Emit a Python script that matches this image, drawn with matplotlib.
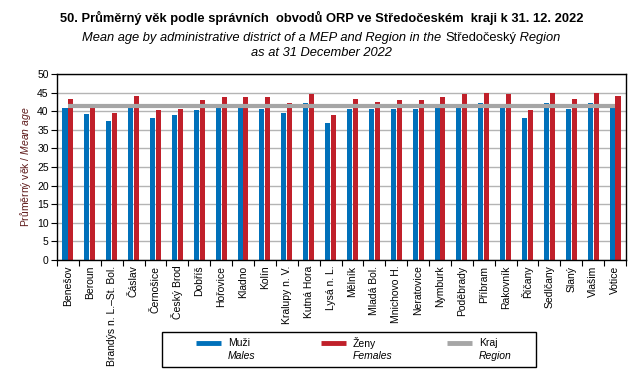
import matplotlib
matplotlib.use("Agg")
import matplotlib.pyplot as plt
from matplotlib.lines import Line2D
import numpy as np

plt.rcParams['font.family'] = ['Liberation Sans', 'DejaVu Sans']
plt.rcParams['mathtext.fontset'] = 'custom'
plt.rcParams['mathtext.it'] = 'Liberation Sans:italic'
plt.rcParams['mathtext.rm'] = 'Liberation Sans'

districts = ['Benešov', 'Beroun', 'Brandýs n. L.–St. Bol.', 'Čáslav', 'Černošice',
             'Český Brod', 'Dobříš', 'Hořovice', 'Kladno', 'Kolín',
             'Kralupy n. V.', 'Kutná Hora', 'Lysá n. L.', 'Mělník', 'Mladá Bol.',
             'Mnichovo H.', 'Neratovice', 'Nymburk', 'Poděbrady', 'Příbram',
             'Rakovník', 'Říčany', 'Sedlčany', 'Slaný', 'Vlašim', 'Votice']
males = [40.9, 39.3, 37.4, 41.2, 38.3, 39.1, 40.4, 41.2, 41.1, 40.6,
         39.6, 42.1, 36.9, 40.7, 40.5, 40.7, 40.5, 41.2, 41.2, 42.1,
         41.2, 38.3, 42.3, 40.5, 42.1, 41.1]
females = [43.3, 41.1, 39.4, 44.0, 40.2, 40.7, 42.9, 43.7, 43.7, 43.7,
           42.1, 44.5, 39.1, 43.2, 42.6, 42.9, 42.9, 43.7, 44.5, 44.8,
           44.5, 40.2, 45.0, 43.2, 44.8, 44.2]
region = 41.4

BLUE = '#0070BA'
RED = '#C0202A'
GRAY = '#A6A6A6'

fig = plt.figure(figsize=(6.43, 3.71), dpi=100)
ax = fig.add_axes([57/643, 1-260/371, 569/643, 186/371])

x = np.arange(len(districts))
w = 0.23
ax.bar(x - 0.135, males, width=w, color=BLUE, zorder=2)
ax.bar(x + 0.135, females, width=w, color=RED, zorder=2)
ax.plot(x, [region]*len(x), color=GRAY, lw=3.0, zorder=3, solid_capstyle='butt')

ax.set_xlim(-0.5, len(x) - 0.5)
ax.set_ylim(0, 50)
ax.set_yticks(range(0, 51, 5))
ax.yaxis.grid(True, color='#B4B4B4', lw=1.0, zorder=0)
ax.set_axisbelow(True)
ax.set_xticks(x)
ax.set_xticklabels(districts, rotation=90, fontsize=7.5)
ax.set_xticks(np.arange(-0.5, len(x)), minor=True)
ax.tick_params(axis='x', which='major', length=0, pad=4)
ax.tick_params(axis='x', which='minor', length=4, width=0.8, direction='out')
ax.tick_params(axis='y', labelsize=7.5, length=4, width=0.8, direction='out', pad=2)
for s in ax.spines.values():
    s.set_linewidth(1.0)
    s.set_color('black')

ax.set_ylabel('Průměrný věk / $\\it{Mean\\ age}$', fontsize=7.5, color='#5E1A1A', labelpad=3)

# titles
fig.text(0.5, 1-18/371, '50. Průměrný věk podle správních  obvodů ORP ve Středočeském  kraji k 31. 12. 2022',
         ha='center', va='center', fontsize=9.3, fontweight='bold')
fig.canvas.draw()
r = fig.canvas.get_renderer()
parts = [('Mean age by administrative district of a MEP and Region in the ', 'italic'),
         ('Středočeský', 'normal'), (' Region', 'italic')]
tmp = [fig.text(0, 0, t, fontsize=9.3, style=st) for t, st in parts]
widths = [t.get_window_extent(r).width for t in tmp]
for t in tmp:
    t.remove()
x0 = (643 - sum(widths)) / 2
for (t, st), wd in zip(parts, widths):
    fig.text(x0/643, 1-38/371, t, fontsize=9.3, style=st, va='center', ha='left')
    x0 += wd
fig.text(0.5, 1-53/371, 'as at 31 December 2022', ha='center', va='center',
         fontsize=9.3, style='italic')

# legend box
box = plt.Rectangle((162/643, 1-367/371), 374/643, 35/371, transform=fig.transFigure,
                    fill=False, ec='black', lw=1.0)
fig.add_artist(box)
entries = [(BLUE, 'Muži', 'Males', 196), (RED, 'Ženy', 'Females', 321), (GRAY, 'Kraj', 'Region', 447)]
for col, cz, en, px in entries:
    fig.add_artist(Line2D([px/643, (px+25)/643], [1-343/371]*2, transform=fig.transFigure,
                          color=col, lw=3.5, solid_capstyle='butt'))
    fig.text((px+32)/643, 1-343/371, cz, fontsize=7.5, va='center')
    fig.text((px+32)/643, 1-356/371, en, fontsize=7.5, va='center', style='italic')

fig.savefig('out.png', dpi=100)
